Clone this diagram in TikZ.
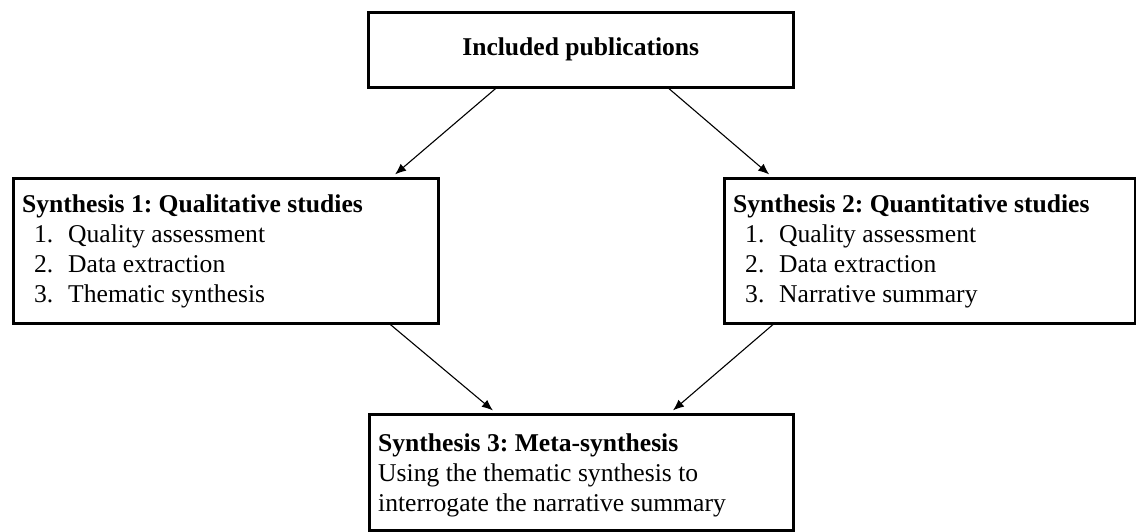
\documentclass[tikz,border=0pt]{standalone}
\usepackage{fontspec}
\setmainfont{Liberation Serif}
\frenchspacing
\usetikzlibrary{calc,arrows.meta}
\tikzset{box/.style={draw,line width=2.5pt,inner sep=0pt,anchor=north west}}
\tikzset{txt/.style={anchor=base west,inner sep=0pt,align=left,font=\fontsize{25.6}{30}\selectfont}}
\tikzset{conn/.style={-{Latex[length=11pt,width=9pt]},line width=1.1pt,shorten >=4pt}}
\newcommand{\itm}[2]{\hspace*{12pt}\makebox[34pt][l]{#1}#2}

\begin{document}
\begin{tikzpicture}[x=1pt,y=-1pt]
  \useasboundingbox (0,0) rectangle (1136,531);
  % boxes
  \node[box,minimum width=425pt,minimum height=75pt] (inc) at (367,11) {};
  \node[box,minimum width=425pt,minimum height=145pt] (syn1) at (12,177) {};
  \node[box,minimum width=411pt,minimum height=145pt] (syn2) at (723,177) {};
  \node[box,minimum width=424pt,minimum height=116pt] (syn3) at (368,413) {};

  % texts (anchored at the baseline of the last line)
  \node[font=\fontsize{25.6}{30}\selectfont\bfseries,inner sep=0pt] (inctxt) at (inc.center) {Included publications};
  \node[txt] (syn1txt) at (22,302) {\textbf{Synthesis 1: Qualitative studies}\\
    \itm{1.}{Quality assessment}\\
    \itm{2.}{Data extraction}\\
    \itm{3.}{Thematic synthesis}};
  \node[txt] (syn2txt) at (733,302) {\textbf{Synthesis 2: Quantitative studies}\\
    \itm{1.}{Quality assessment}\\
    \itm{2.}{Data extraction}\\
    \itm{3.}{Narrative summary}};
  \node[txt] (syn3txt) at (378,511) {\textbf{Synthesis 3: Meta-synthesis}\\
    Using the thematic synthesis to\\
    interrogate the narrative summary};

  % connectors
  \draw[conn] ($(inc.south west)!0.301!(inc.south east)$) -- ($(syn1.north west)!0.889!(syn1.north east)$);
  \draw[conn] ($(inc.south west)!0.706!(inc.south east)$) -- ($(syn2.north west)!0.119!(syn2.north east)$);
  \draw[conn] ($(syn1.south west)!0.885!(syn1.south east)$) -- ($(syn3.north west)!0.300!(syn3.north east)$);
  \draw[conn] ($(syn2.south west)!0.121!(syn2.south east)$) -- ($(syn3.north west)!0.708!(syn3.north east)$);
\end{tikzpicture}
\end{document}
